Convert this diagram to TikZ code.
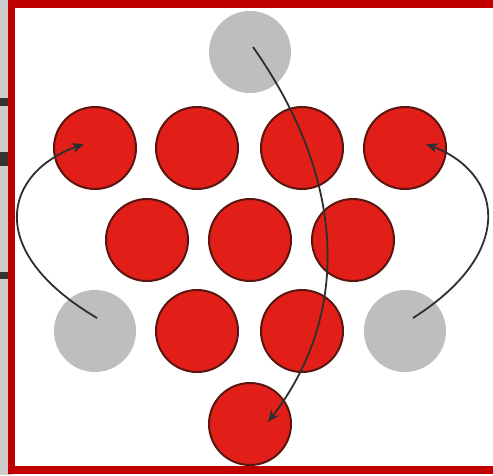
\documentclass[tikz,border=0pt]{standalone}
\usetikzlibrary{arrows.meta}
\definecolor{ballred}{HTML}{E11F18}
\definecolor{ballrim}{HTML}{5A1510}
\definecolor{ghost}{HTML}{BEBEBE}
\definecolor{framered}{HTML}{C00000}
\definecolor{arrowgray}{HTML}{2E2E2E}
\tikzset{
  ball/.style={circle, fill=ballred, draw=ballrim, line width=2pt, minimum size=82pt, inner sep=0pt},
  ghostball/.style={circle, fill=ghost, draw=none, minimum size=82pt, inner sep=0pt},
  move/.style={draw=arrowgray, line width=1.8pt, -{Stealth[length=12pt,width=10pt]}},
}
\begin{document}
\begin{tikzpicture}[x=1pt,y=-1pt]
\useasboundingbox (0,0) rectangle (493,475);
\clip (0,0) rectangle (493,475);
% photo background strip at left
\fill[gray!40] (0,0) rectangle (12,475);
\fill[black!80] (0,98) rectangle (10,106);
\fill[black!80] (0,152) rectangle (10,166);
\fill[black!80] (0,272) rectangle (10,279);
\fill[white] (12,5) rectangle (493,470);
% balls
\node[ghostball] (g0) at (250,52) {};
\node[ball] (r1) at (95,148) {};
\node[ball] (r2) at (197,148) {};
\node[ball] (r3) at (302,148) {};
\node[ball] (r4) at (405,148) {};
\node[ball] (r5) at (147,240) {};
\node[ball] (r6) at (250,240) {};
\node[ball] (r7) at (353,240) {};
\node[ghostball] (gl) at (95,331) {};
\node[ball] (r8) at (197,331) {};
\node[ball] (r9) at (302,331) {};
\node[ghostball] (gr) at (405,331) {};
\node[ball] (r10) at (250,424) {};
% arrow end points
\coordinate (s0) at (253,47);
\coordinate (e0) at (268,422);
\coordinate (sl) at (97,318);
\coordinate (el) at (84,144);
\coordinate (sr) at (413,318);
\coordinate (er) at (426,144);
\draw[move] (s0) .. controls (350,185) and (348,318) .. (e0);
\draw[move] (sl) .. controls (-18,250) and (5,172) .. (el);
\draw[move] (sr) .. controls (520,250) and (500,172) .. (er);
% frame
\draw[framered, line width=7.5pt] (11.5,4) rectangle (510,470);
\end{tikzpicture}
\end{document}
